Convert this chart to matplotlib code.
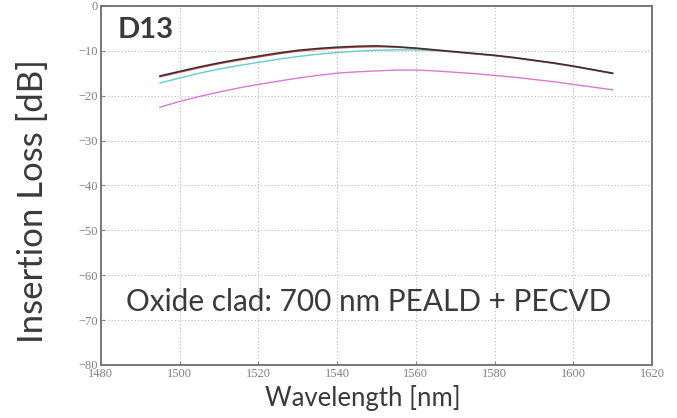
import numpy as np
import matplotlib
matplotlib.use("Agg")
import matplotlib.pyplot as plt

# wavelength sweep [nm] and insertion loss for each trace [dB]
wavelength = [1495, 1500, 1505, 1510, 1515, 1520, 1525, 1530, 1535, 1540, 1545, 1550,
              1555, 1560, 1565, 1570, 1575, 1580, 1585, 1590, 1595, 1600, 1605, 1610]

loss_black = [-15.6, -14.6, -13.6, -12.7, -11.9, -11.2, -10.5, -9.9, -9.5, -9.2, -9.0, -8.9,
              -9.1, -9.4, -9.8, -10.2, -10.6, -11.0, -11.5, -12.1, -12.7, -13.4, -14.2, -15.0]
loss_red = [-15.8, -14.8, -13.8, -12.9, -12.1, -11.4, -10.7, -10.1, -9.7, -9.4, -9.2, -9.1,
            -9.2, -9.5, -9.9, -10.3, -10.7, -11.1, -11.6, -12.2, -12.8, -13.5, -14.3, -15.1]
loss_cyan = [-17.2, -16.1, -15.0, -14.1, -13.3, -12.6, -11.9, -11.3, -10.8, -10.4, -10.1, -9.9,
             -9.8, -9.8, -10.0, -10.3, -10.7, -11.1, -11.6, -12.2, -12.8, -13.5, -14.2, -15.0]
loss_magenta = [-22.6, -21.3, -20.2, -19.2, -18.3, -17.5, -16.8, -16.1, -15.5, -15.0, -14.7, -14.5,
                -14.3, -14.3, -14.5, -14.8, -15.1, -15.5, -15.9, -16.4, -16.9, -17.5, -18.1, -18.7]

x_ticks = [1480, 1500, 1520, 1540, 1560, 1580, 1600, 1620]
y_ticks = [0, -10, -20, -30, -40, -50, -60, -70, -80]

txt_color = "#3a3a3a"
sans = ["Lato", "DejaVu Sans"]

fig = plt.figure(figsize=(6.77, 4.18), dpi=100)
ax = fig.add_axes([0.149, 0.127, 0.814, 0.859])

ax.plot(wavelength, loss_magenta, color="#d77ad7", lw=1.0)
ax.plot(wavelength, loss_cyan, color="#5fcfcf", lw=1.0)
ax.plot(wavelength, loss_red, color="#d44040", lw=1.0)
ax.plot(wavelength, loss_black, color="#333333", lw=1.1)

ax.set_xlim(1480, 1620)
ax.set_ylim(-80, 0)
ax.set_xticks(x_ticks)
ax.set_yticks(y_ticks)
ax.set_xticklabels([str(t) for t in x_ticks], family="Liberation Serif", fontsize=9, color="#808080")
ax.set_yticklabels([str(t).replace("-", "\u2212") for t in y_ticks], family="Liberation Serif",
                   fontsize=9, color="#808080")
ax.tick_params(direction="in", length=3, color="#888888", pad=2)
ax.grid(True, linestyle=(0, (1, 2)), color="#bbbbbb", lw=0.8)
for s in ax.spines.values():
    s.set_color("#777777")
    s.set_linewidth(1.4)

ax.text(0.031, 0.97, "D13", transform=ax.transAxes, family=sans, fontweight="bold",
        fontsize=21, color=txt_color, ha="left", va="top")
ax.text(0.485, 0.175, "Oxide clad: 700 nm PEALD + PECVD", transform=ax.transAxes,
        family=sans, fontsize=21.4, color=txt_color, ha="center", va="center")

fig.text(0.049, 0.52, "Insertion Loss [dB]", rotation=90, family=sans, fontsize=25,
         color=txt_color, ha="center", va="center")
fig.text(0.536, 0.048, "Wavelength [nm]", family=sans, fontsize=18.5,
         color=txt_color, ha="center", va="center")

fig.savefig("out.png", dpi=100)
